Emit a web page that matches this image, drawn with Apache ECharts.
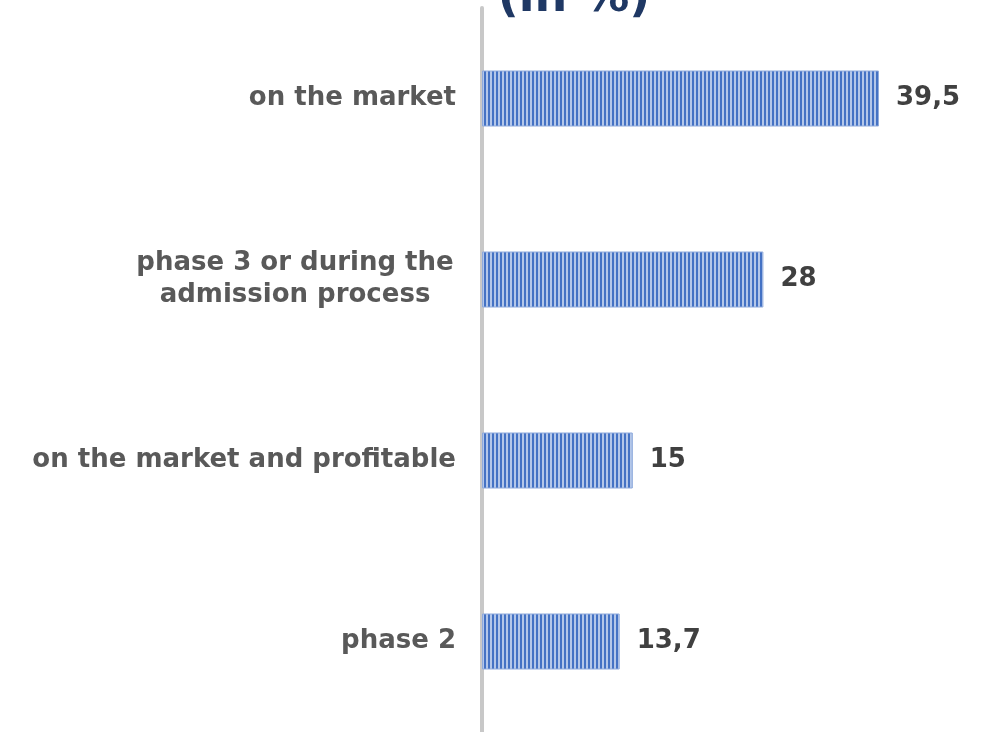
<!DOCTYPE html>
<html>
<head>
<meta charset="utf-8">
<script src="https://cdn.jsdelivr.net/npm/echarts@6/dist/echarts.min.js"></script>
<style>
html, body { margin: 0; padding: 0; background: #fff; }
#main { width: 989px; height: 732px; }
</style>
</head>
<body>
<div id="main"></div>
<script>
// categories from bottom to top (category axis is inverted below)
var categories = ['on the market', 'phase 3 or during the\nadmission process', 'on the market and profitable', 'phase 2'];
var values = [39.5, 28, 15, 13.7];
var valueLabels = ['39,5', '28', '15', '13,7'];
var titleText = '(in %)';

// striped fill for the bars
var stripe = document.createElement('canvas');
stripe.width = 4;
stripe.height = 4;
var sctx = stripe.getContext('2d');
sctx.fillStyle = '#b4c7e9';
sctx.fillRect(0, 0, 4, 4);
sctx.fillStyle = '#4472c4';
sctx.fillRect(0, 0, 2, 4);

var font = '"DejaVu Sans", Verdana, sans-serif';

var option = {
	animation: false,
	backgroundColor: '#ffffff',
	graphic: [{
		type: 'text',
		x: 574,
		y: -24,
		style: {
			text: titleText,
			font: 'bold 46px ' + font,
			fill: '#1f3864',
			align: 'center'
		}
	}],
	grid: {
		left: 482,
		top: 8,
		width: 502.5,
		height: 728
	},
	xAxis: {
		type: 'value',
		min: 0,
		max: 50,
		show: false
	},
	yAxis: {
		type: 'category',
		data: categories,
		inverse: true,
		axisTick: { show: false },
		axisLine: { show: true, lineStyle: { color: '#c8c8c8', width: 4 } },
		axisLabel: {
			margin: 26,
			fontFamily: font,
			fontWeight: 'bold',
			fontSize: 26,
			color: '#595959',
			lineHeight: 32,
			formatter: function (val) {
				if (val.indexOf('\n') >= 0) {
					return val.split('\n').map(function (s) { return '{c|' + s + '}'; }).join('\n');
				}
				return val;
			},
			rich: {
				c: {
					width: 322,
					align: 'center',
					fontFamily: font,
					fontWeight: 'bold',
					fontSize: 26,
					color: '#595959',
					lineHeight: 32
				}
			}
		}
	},
	series: [{
		type: 'bar',
		data: values,
		barWidth: 56,
		itemStyle: {
			color: { image: stripe, repeat: 'repeat' },
			borderColor: '#8faadc',
			borderWidth: 1
		},
		label: {
			show: true,
			position: 'right',
			distance: 17,
			fontFamily: font,
			fontWeight: 'bold',
			fontSize: 26,
			color: '#404040',
			formatter: function (p) { return valueLabels[p.dataIndex]; }
		}
	}]
};

var chart = echarts.init(document.getElementById('main'));
chart.setOption(option);
</script>
</body>
</html>
